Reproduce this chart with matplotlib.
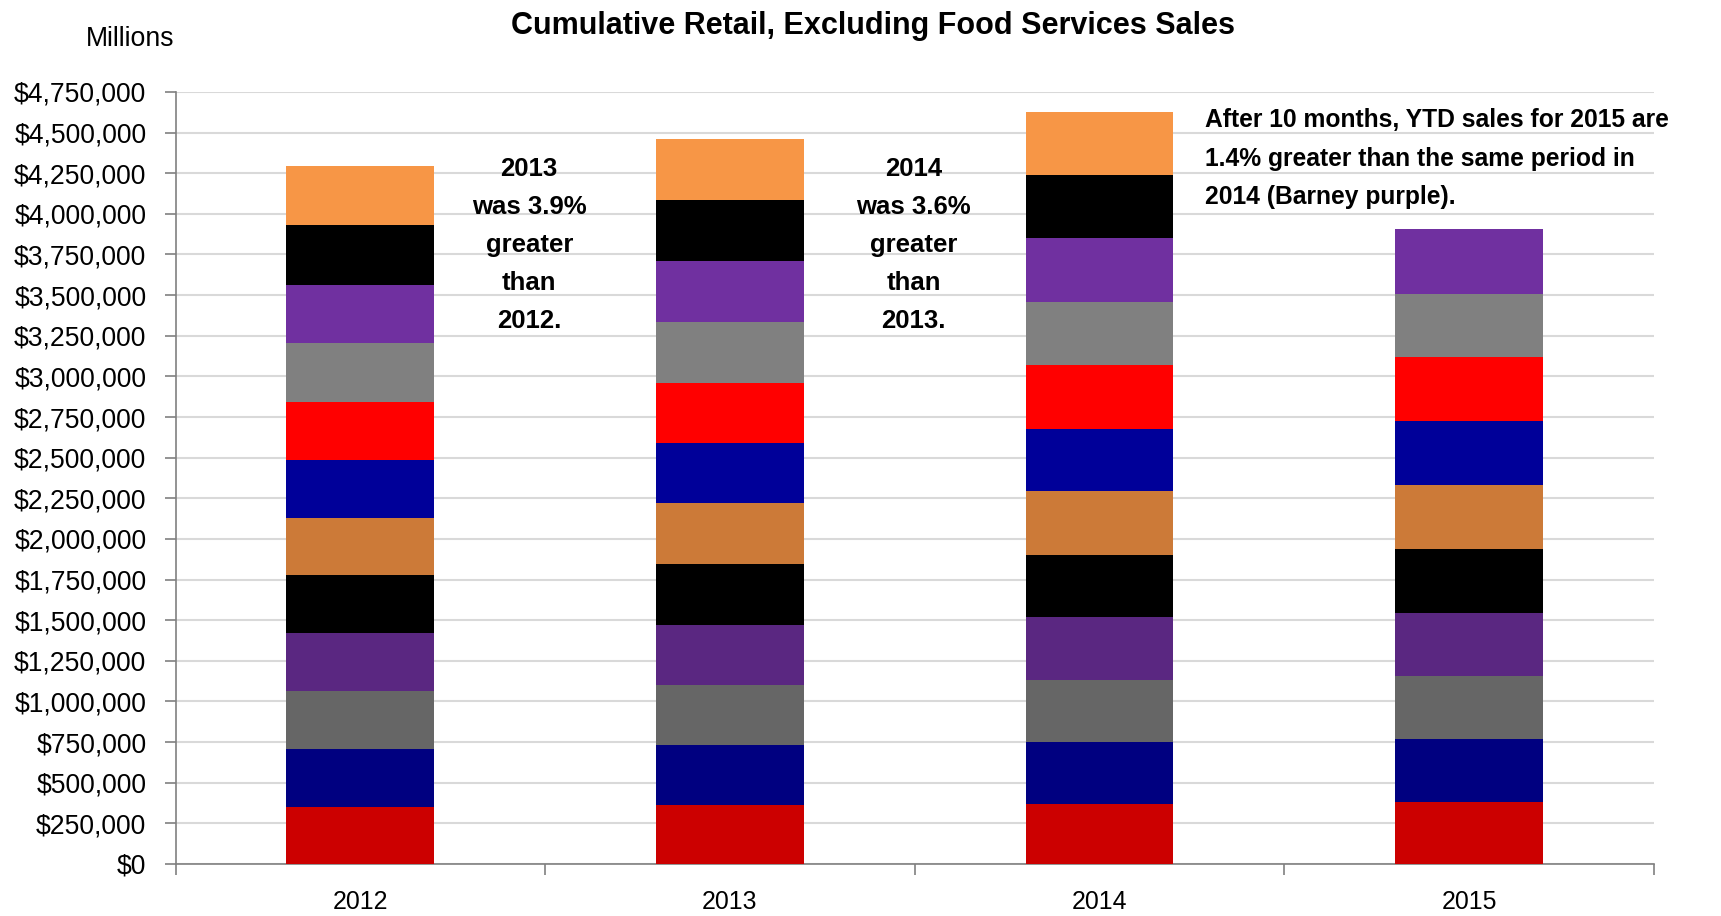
import matplotlib
matplotlib.use("Agg")
import matplotlib.pyplot as plt
import matplotlib.ticker as ticker
from matplotlib import font_manager
import numpy as np

installed = {f.name for f in font_manager.fontManager.ttflist}
if 'Liberation Sans Narrow' in installed:
    plt.rcParams['font.family'] = ['Liberation Sans Narrow', 'DejaVu Sans']
    k = 1.19
else:
    plt.rcParams['font.family'] = ['Liberation Sans', 'DejaVu Sans']
    k = 1.0

years = ['2012', '2013', '2014', '2015']
# monthly retail sales excl. food services, millions of dollars (Jan..Dec)
sales_2012 = [349000, 358000, 358000, 358000, 358000, 349000,
              355000, 355000, 367000, 358000, 364000, 367000]
sales_2013 = [365000, 368000, 371000, 368000, 374000, 374000,
              368000, 374000, 374000, 374000, 374000, 378000]
sales_2014 = [371000, 378000, 381000, 387000, 387000, 390000,
              384000, 390000, 390000, 394000, 387000, 387000]
sales_2015 = [379000, 390000, 387000, 390000, 392000, 392000,
              395000, 392000, 392000, 395000]
month_colors = ['#CC0000', '#000080', '#666666', '#5A2781', '#000000', '#CC7A38',
                '#000099', '#FF0000', '#808080', '#7030A0', '#000000', '#F79646']

notes = ['2013\nwas 3.9%\ngreater\nthan\n2012.',
         '2014\nwas 3.6%\ngreater\nthan\n2013.']
ytd_note = 'After 10 months, YTD sales for 2015 are\n1.4% greater than the same period in\n2014 (Barney purple).'

all_sales = [sales_2012, sales_2013, sales_2014, sales_2015]

fig = plt.figure(figsize=(17.21, 9.16), dpi=100)
ax = fig.add_axes([0.102, 0.0568, 0.859, 0.8428])

x = np.arange(len(years))
for i, s in enumerate(all_sales):
    bottom = 0
    for m, v in enumerate(s):
        ax.bar(x[i], v, bottom=bottom, width=0.40, color=month_colors[m],
               edgecolor='none', zorder=3)
        bottom += v

ax.set_xlim(-0.5, 3.5)
ax.set_ylim(0, 4750000)
ax.yaxis.set_major_locator(ticker.MultipleLocator(250000))
ax.yaxis.set_major_formatter(ticker.FuncFormatter(lambda v, p: '${:,.0f}'.format(v)))
ax.grid(axis='y', color='#D9D9D9', linewidth=1.5, zorder=0)

ax.set_xticks(x)
ax.set_xticklabels(years)
ax.xaxis.set_minor_locator(ticker.FixedLocator(np.arange(-0.5, 4, 1)))
ax.tick_params(axis='x', which='major', length=0, labelsize=17.9 * k, pad=19)
ax.tick_params(axis='x', which='minor', length=8, color='#808080', width=1.2)
ax.tick_params(axis='y', length=8, color='#808080', width=1.2, labelsize=19.1 * k, pad=13)

for side in ['top', 'right']:
    ax.spines[side].set_visible(False)
for side in ['left', 'bottom']:
    ax.spines[side].set_color('#808080')
    ax.spines[side].set_linewidth(1.2)

fig.text(0.507, 0.972, 'Cumulative Retail, Excluding Food Services Sales',
         ha='center', va='center', fontsize=22 * k, fontweight='bold')
fig.text(0.05, 0.957, 'Millions', ha='left', va='center', fontsize=19.2 * k)

ax.text(0.457, 4350000, notes[0], ha='center', va='top', fontsize=18.5 * k,
        fontweight='bold', linespacing=1.74)
ax.text(1.497, 4350000, notes[1], ha='center', va='top', fontsize=18.5 * k,
        fontweight='bold', linespacing=1.74)
ax.text(2.285, 4652000, ytd_note, ha='left', va='top', fontsize=17.7 * k,
        fontweight='bold', linespacing=1.77)

fig.savefig('out.png', dpi=100)
